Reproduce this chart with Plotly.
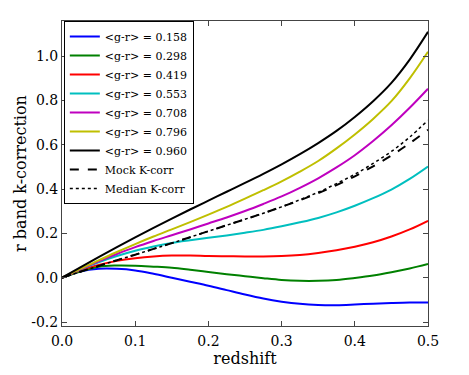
import plotly.graph_objects as go

# redshift grid (step 0.025)
z = [0.0, 0.025, 0.05, 0.075, 0.1, 0.125, 0.15, 0.175, 0.2, 0.225, 0.25,
     0.275, 0.3, 0.325, 0.35, 0.375, 0.4, 0.425, 0.45, 0.475, 0.5]

# k-correction per <g-r> colour bin
k_0158 = [0, .028, .040, .040, .033, .018, .0, -.018, -.036, -.056, -.076,
          -.094, -.108, -.118, -.123, -.124, -.121, -.117, -.114, -.112, -.112]
k_0298 = [0, .028, .050, .055, .054, .050, .045, .036, .026, .016, .007,
          -.002, -.010, -.014, -.014, -.010, -.001, .010, .025, .042, .062]
k_0419 = [0, .033, .058, .076, .088, .096, .100, .100, .098, .097, .096,
          .096, .098, .103, .112, .124, .140, .160, .186, .218, .257]
k_0553 = [0, .037, .070, .098, .122, .141, .157, .169, .180, .191, .203,
          .216, .232, .250, .270, .295, .325, .359, .398, .446, .502]
k_0708 = [0, .038, .074, .107, .138, .166, .192, .218, .245, .272, .301,
          .333, .367, .406, .449, .498, .553, .617, .688, .767, .853]
k_0796 = [0, .040, .078, .116, .152, .186, .218, .251, .285, .320, .357,
          .395, .435, .479, .527, .584, .647, .717, .797, .900, 1.020]
k_0960 = [0, .047, .093, .138, .182, .225, .267, .308, .348, .388, .428,
          .469, .512, .558, .608, .663, .726, .797, .880, .985, 1.110]
mock_k = [0, .027, .053, .079, .104, .130, .156, .183, .210, .237, .264,
          .291, .320, .350, .382, .418, .458, .503, .552, .607, .668]
median_k = [0, .027, .053, .079, .104, .130, .156, .183, .210, .237, .264,
            .291, .320, .352, .386, .425, .467, .516, .570, .635, .711]

labels = ['<g-r> = 0.158', '<g-r> = 0.298', '<g-r> = 0.419', '<g-r> = 0.553',
          '<g-r> = 0.708', '<g-r> = 0.796', '<g-r> = 0.960']
series = [k_0158, k_0298, k_0419, k_0553, k_0708, k_0796, k_0960]
colors = ['#0000ff', '#008000', '#ff0000', '#00bfbf', '#bf00bf', '#bfbf00', '#000000']

yticks = [-0.2, 0.0, 0.2, 0.4, 0.6, 0.8, 1.0]
ytick_text = ['-0.2', '0.0', '0.2', '0.4', '0.6', '0.8', '1.0']

serif = 'DejaVu Serif'

fig = go.Figure()
for lab, vals, col in zip(labels, series, colors):
    fig.add_trace(go.Scatter(x=z, y=vals, name=lab, mode='lines',
                             line=dict(color=col, width=2, shape='spline')))
fig.add_trace(go.Scatter(x=z, y=mock_k, name='Mock K-corr', mode='lines',
                         line=dict(color='black', width=2, dash='dash', shape='spline')))
fig.add_trace(go.Scatter(x=z, y=median_k, name='Median K-corr', mode='lines',
                         line=dict(color='black', width=1.5, dash='dot', shape='spline')))

axis_common = dict(showline=True, linecolor='#444444', linewidth=1, mirror='ticks',
                   ticks='inside', ticklen=5, tickcolor='#444444',
                   showgrid=False, zeroline=False,
                   tickfont=dict(family=serif, size=14, color='black'))

# the page body adds an 8px offset, so the figure is a bit smaller than the window
fig.update_layout(
    width=461, height=367,
    margin=dict(l=52, r=41, t=12, b=47),
    paper_bgcolor='white', plot_bgcolor='white',
    xaxis=dict(range=[0, 0.5], tickvals=[0, 0.1, 0.2, 0.3, 0.4, 0.5], tickformat='.1f',
               ticklabelstandoff=2,
               title=dict(text='redshift', font=dict(family=serif, size=16, color='black'),
                          standoff=3),
               **axis_common),
    yaxis=dict(range=[-0.218, 1.159], tickvals=yticks, ticktext=ytick_text,
               title=dict(text='r band k-correction', font=dict(family=serif, size=16, color='black'),
                          standoff=0),
               **axis_common),
    legend=dict(x=0.005, y=1.0, xanchor='left', yanchor='top',
                bgcolor='white', bordercolor='black', borderwidth=1,
                font=dict(family=serif, size=11, color='black'),
                itemwidth=30, tracegroupgap=0),
)

fig.write_html("out.html")
